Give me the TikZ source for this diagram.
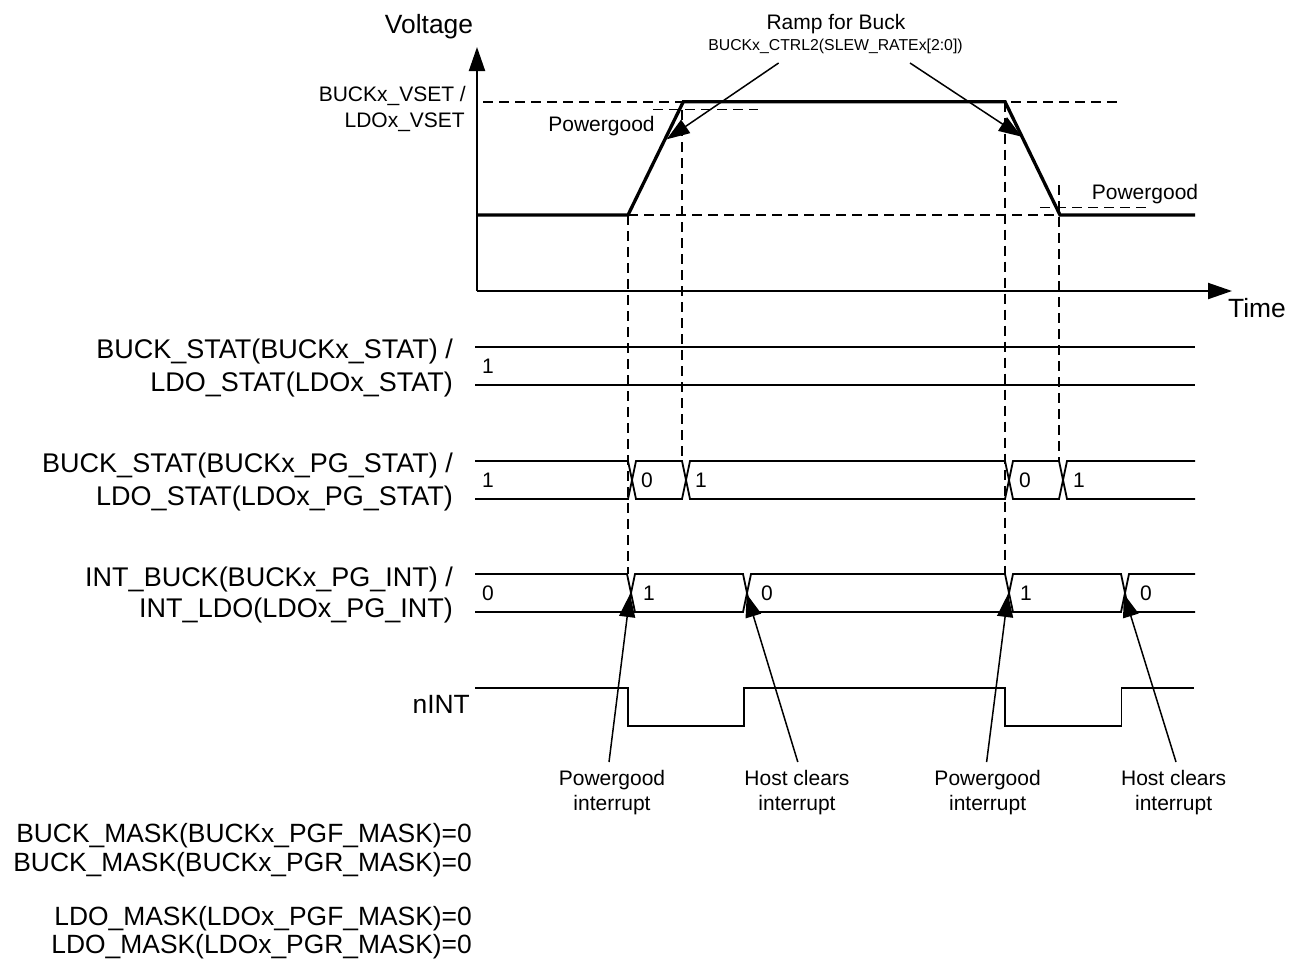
\documentclass[tikz,border=0pt]{standalone}
\usepackage{fontspec}
\setmainfont{Liberation Sans}
\usetikzlibrary{arrows.meta}
\begin{document}
\begin{tikzpicture}[x=1pt,y=-1pt,
  big/.style={font=\fontsize{26.4}{31}\selectfont, inner sep=0pt},
  rowlab/.style={font=\fontsize{27}{32}\selectfont, inner sep=0pt},
  med/.style={font=\fontsize{21}{25}\selectfont, inner sep=0pt},
  small/.style={font=\fontsize{15.8}{18}\selectfont, inner sep=0pt},
  axis/.style={line width=2pt, -{Triangle[length=24pt,width=16pt]}},
  wave/.style={line width=3.3pt, line join=miter},
  sig/.style={line width=1.8pt},
  guide/.style={line width=1.6pt, dash pattern=on 10pt off 6pt},
  pointer/.style={line width=1.5pt, -{Triangle[length=23pt,width=16pt]}},
]
\useasboundingbox (0,0) rectangle (1289,978);

% ---------- voltage plot ----------
\node[big, anchor=base] (volt) at (429,33) {Voltage};
\node[big, anchor=base west] (time) at (1228,317) {Time};
\node[med, anchor=base east] (vset1) at (466,101) {BUCKx\_VSET /};
\node[med, anchor=base east] (vset2) at (465,127) {LDOx\_VSET};
\node[med, anchor=base] (pgup) at (601.5,131) {Powergood};
\node[med, anchor=base] (pgdn) at (1145,199) {Powergood};
\node[med, anchor=base] (ramp) at (836,29) {Ramp for Buck};
\node[small, anchor=base] (ctrl) at (835.5,50) {BUCKx\_CTRL2(SLEW\_RATEx[2:0])};

% guide lines
\draw[guide] (483,101.7) -- (1120,101.7);
\draw[guide] (628,215) -- (1059,215);
\draw[guide] (653,109.3) -- (758,109.3);
\draw[guide] (1040,207.3) -- (1146,207.3);
\draw[guide] (628,215) -- (628,574);
\draw[guide] (682,110) -- (682,461);
\draw[guide] (1005,101.7) -- (1005,574);
\draw[guide] (1059,185) -- (1059,461);

% axes
\coordinate (org) at (477,291);
\coordinate (ytip) at (477,47);
\coordinate (xtip) at (1232,291);
\draw[axis] (org) -- (ytip);
\draw[axis] (org) -- (xtip);

% waveform
\draw[wave] (477,215) -- (628,215) -- (683.3,101.7) -- (1005,101.7) -- (1060,215) -- (1195,215);

% ramp pointers
\coordinate (r1s) at (778.6,63);
\coordinate (r1t) at (666.7,139.3);
\coordinate (r2s) at (910,63);
\coordinate (r2t) at (1021.7,136.7);
\draw[pointer] (r1s) -- (r1t);
\draw[pointer] (r2s) -- (r2t);

% ---------- row 1 ----------
\node[rowlab, anchor=base east] (l1a) at (453,358) {BUCK\_STAT(BUCKx\_STAT) /};
\node[rowlab, anchor=base east] (l1b) at (453,391) {LDO\_STAT(LDOx\_STAT)};
\draw[sig] (475,347) -- (1195,347);
\draw[sig] (475,385) -- (1195,385);
\node[med, anchor=base west] (v11) at (482,373.5) {1};

% ---------- row 2 ----------
\node[rowlab, anchor=base east] (l2a) at (453,472) {BUCK\_STAT(BUCKx\_PG\_STAT) /};
\node[rowlab, anchor=base east] (l2b) at (453,505) {LDO\_STAT(LDOx\_PG\_STAT)};
\draw[sig] (475,461) -- (628,461) -- (636,499) -- (682,499) -- (690,461) -- (1005,461) -- (1013,499) -- (1059,499) -- (1067,461) -- (1195,461);
\draw[sig] (475,499) -- (628,499) -- (636,461) -- (682,461) -- (690,499) -- (1005,499) -- (1013,461) -- (1059,461) -- (1067,499) -- (1195,499);
\node[med, anchor=base west] (v21) at (482,487.5) {1};
\node[med, anchor=base west] (v22) at (641,487.5) {0};
\node[med, anchor=base west] (v23) at (695,487.5) {1};
\node[med, anchor=base west] (v24) at (1019,487.5) {0};
\node[med, anchor=base west] (v25) at (1073,487.5) {1};

% ---------- row 3 ----------
\node[rowlab, anchor=base east] (l3a) at (453,586) {INT\_BUCK(BUCKx\_PG\_INT) /};
\node[rowlab, anchor=base east] (l3b) at (453,617) {INT\_LDO(LDOx\_PG\_INT)};
\draw[sig] (475,574) -- (627,574) -- (635,612) -- (743,612) -- (751,574) -- (1005,574) -- (1013,612) -- (1121,612) -- (1129,574) -- (1195,574);
\draw[sig] (475,612) -- (627,612) -- (635,574) -- (743,574) -- (751,612) -- (1005,612) -- (1013,574) -- (1121,574) -- (1129,612) -- (1195,612);
\node[med, anchor=base west] (v31) at (482,600.5) {0};
\node[med, anchor=base west] (v32) at (643,600.5) {1};
\node[med, anchor=base west] (v33) at (761,600.5) {0};
\node[med, anchor=base west] (v34) at (1020,600.5) {1};
\node[med, anchor=base west] (v35) at (1140,600.5) {0};

% ---------- nINT ----------
\node[big, anchor=base east] (lint) at (470,713) {nINT};
\draw[sig] (475,688) -- (628,688) -- (628,726) -- (744,726) -- (744,688) -- (1005,688) -- (1005,726) -- (1121.5,726) -- (1121.5,688) -- (1194,688);

% ---------- annotations ----------
\node[med, anchor=base] (a1a) at (612,785) {Powergood};
\node[med, anchor=base] (a1b) at (612,810) {interrupt};
\node[med, anchor=base] (a2a) at (797,785) {Host clears};
\node[med, anchor=base] (a2b) at (797,810) {interrupt};
\node[med, anchor=base] (a3a) at (987.6,785) {Powergood};
\node[med, anchor=base] (a3b) at (987.6,810) {interrupt};
\node[med, anchor=base] (a4a) at (1173.6,785) {Host clears};
\node[med, anchor=base] (a4b) at (1173.6,810) {interrupt};

\coordinate (p1s) at (609,762);   \coordinate (p1t) at (630,594);
\coordinate (p2s) at (797.8,762); \coordinate (p2t) at (746.7,594);
\coordinate (p3s) at (986.6,762); \coordinate (p3t) at (1008,594);
\coordinate (p4s) at (1176,762);  \coordinate (p4t) at (1124,594);
\draw[pointer] (p1s) -- (p1t);
\draw[pointer] (p2s) -- (p2t);
\draw[pointer] (p3s) -- (p3t);
\draw[pointer] (p4s) -- (p4t);

% ---------- mask settings ----------
\node[big, anchor=base east] (m1) at (472,842) {BUCK\_MASK(BUCKx\_PGF\_MASK)=0};
\node[big, anchor=base east] (m2) at (472,871) {BUCK\_MASK(BUCKx\_PGR\_MASK)=0};
\node[big, anchor=base east] (m3) at (472,925) {LDO\_MASK(LDOx\_PGF\_MASK)=0};
\node[big, anchor=base east] (m4) at (472,953) {LDO\_MASK(LDOx\_PGR\_MASK)=0};
\end{tikzpicture}
\end{document}
